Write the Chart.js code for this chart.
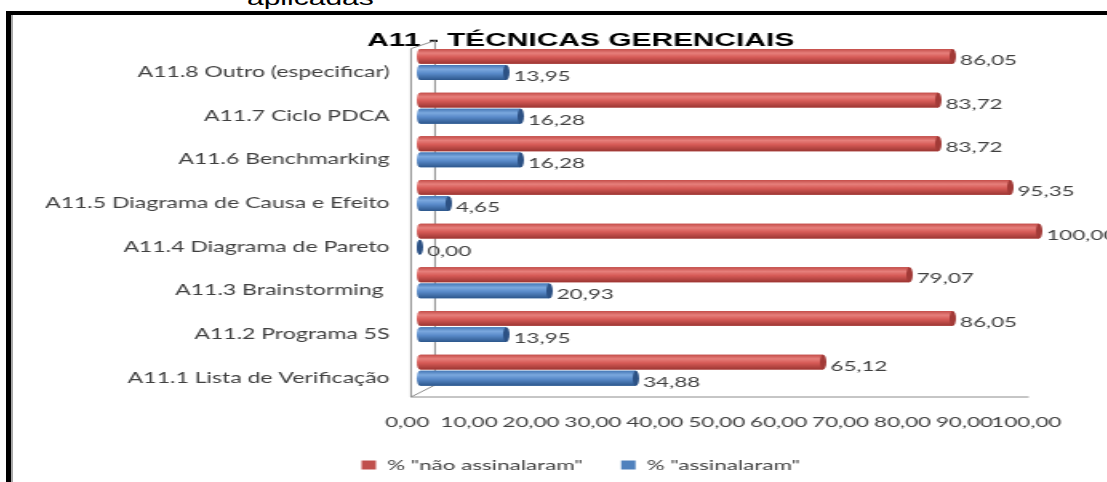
<!DOCTYPE html>
<html>
<head>
<meta charset="utf-8">
<script src="https://cdn.jsdelivr.net/npm/chart.js@4.4.0/dist/chart.umd.min.js"></script>
<style>
  html, body { margin: 0; padding: 0; background: #fff; overflow: hidden; width: 1107px; height: 482px; }
  #top { position: absolute; left: 247px; top: -13px; font: 20px "Liberation Sans", Arial, sans-serif; transform: scaleX(1.5); transform-origin: 0 0; white-space: nowrap; color: #000; }
  #frame { position: absolute; left: 6px; top: 11px; width: 2000px; height: 1000px; border-top: 4px solid #000; border-left: 5px solid #000; }
  #frame div { position: absolute; left: 0; top: 0; bottom: 0; border-left: 2px solid #a8a8a8; }
  /* the source picture is stretched sideways, so the chart is drawn narrow and widened */
  #wrap { position: absolute; left: 12px; top: 15px; width: 711px; height: 467px; transform: scaleX(1.6); transform-origin: 0 0; }
</style>
</head>
<body>
<div id="top">aplicadas</div>
<div id="frame"><div></div></div>
<div id="wrap"><canvas id="chart"></canvas></div>
<script>
const categories = [
  "A11.8 Outro (especificar)",
  "A11.7 Ciclo PDCA",
  "A11.6 Benchmarking",
  "A11.5 Diagrama de Causa e Efeito",
  "A11.4 Diagrama de Pareto",
  "A11.3 Brainstorming ",
  "A11.2 Programa 5S",
  "A11.1 Lista de Verificação"
];
const naoAssinalaram = [86.05, 83.72, 83.72, 95.35, 100.00, 79.07, 86.05, 65.12];
const assinalaram = [13.95, 16.28, 16.28, 4.65, 0.00, 20.93, 13.95, 34.88];
const seriesNames = ['% "não assinalaram"', '% "assinalaram"'];

const fmt = v => Number(v).toFixed(2).replace(".", ",");
const textColor = "#404040";
const labelFont = { family: "Lato", size: 14 };

// cylinder shading per dataset: body gradient stops + end cap colour
const shades = [
  { stops: ["#c44d49", "#e67f7b", "#d75b57", "#9c3633"], cap: "#a23a37" },
  { stops: ["#4678b6", "#7ba8de", "#5a8bca", "#2d578c"], cap: "#2c5184" }
];

// 3D box lines (walls + floor) around the plot
const box3d = {
  id: "box3d",
  beforeDatasetsDraw(chart) {
    const { ctx, chartArea: a, scales: { x } } = chart;
    const fx = a.left - 5.6, bx = a.left + 9.4;
    const fTop = a.top + 6, bTop = a.top - 2, fBot = a.bottom + 5, bBot = a.bottom - 7;
    ctx.save();
    ctx.strokeStyle = "#8c8c8c";
    ctx.lineWidth = 1;
    ctx.beginPath();
    ctx.moveTo(fx, fTop); ctx.lineTo(fx, fBot); ctx.lineTo(x.getPixelForValue(100) - 6.5, fBot);
    ctx.moveTo(fx, fTop); ctx.lineTo(bx, bTop); ctx.lineTo(bx, bBot); ctx.lineTo(fx, fBot);
    ctx.stroke();
    ctx.restore();
  }
};

// draw bars as cylinders and put the value next to each one
const cylinder = {
  id: "cylinder",
  afterDatasetsDraw(chart) {
    const ctx = chart.ctx;
    chart.data.datasets.forEach((ds, i) => {
      const meta = chart.getDatasetMeta(i);
      const sh = shades[i];
      meta.data.forEach((bar, j) => {
        const { x, y, base, height } = bar.getProps(["x", "y", "base", "height"], true);
        const top = y - height / 2, bot = y + height / 2, rx = 2;
        const g = ctx.createLinearGradient(0, top, 0, bot);
        g.addColorStop(0, sh.stops[0]);
        g.addColorStop(0.28, sh.stops[1]);
        g.addColorStop(0.55, sh.stops[2]);
        g.addColorStop(1, sh.stops[3]);
        ctx.save();
        ctx.fillStyle = g;
        ctx.beginPath();
        ctx.ellipse(base, y, rx, height / 2, 0, Math.PI / 2, Math.PI * 1.5);
        ctx.lineTo(x, top);
        ctx.lineTo(x, bot);
        ctx.closePath();
        ctx.fill();
        ctx.fillStyle = sh.cap;
        ctx.beginPath();
        ctx.ellipse(x, y, rx, height / 2, 0, 0, Math.PI * 2);
        ctx.fill();
        ctx.fillStyle = textColor;
        ctx.font = "14px Lato";
        ctx.textBaseline = "middle";
        ctx.textAlign = "left";
        ctx.fillText(fmt(ds.data[j]), x + rx + 2.5, y + 4);
        ctx.restore();
      });
    });
  }
};

new Chart(document.getElementById("chart"), {
  type: "bar",
  data: {
    labels: categories,
    datasets: [
      { label: seriesNames[0], data: naoAssinalaram, backgroundColor: "#c0504d" },
      { label: seriesNames[1], data: assinalaram, backgroundColor: "#4f81bd" }
    ]
  },
  options: {
    indexAxis: "y",
    responsive: true,
    maintainAspectRatio: false,
    animation: false,
    layout: { padding: 0 },
    datasets: { bar: { categoryPercentage: 0.74, barPercentage: 0.92 } },
    scales: {
      x: {
        min: 0, max: 100,
        ticks: { stepSize: 10, callback: v => fmt(v), padding: 22, labelOffset: -8, color: textColor, font: labelFont, maxRotation: 0, autoSkip: false },
        grid: { display: false, drawTicks: false },
        border: { display: false },
        afterFit: s => { s.height = 42; s.paddingRight = 69; }
      },
      y: {
        ticks: { padding: 19, labelOffset: 8, color: textColor, font: { family: "Lato", size: 14.4 } },
        grid: { display: false, drawTicks: false },
        border: { display: false },
        afterFit: s => { s.width = 255; }
      }
    },
    plugins: {
      title: {
        display: true,
        text: "A11 - TÉCNICAS GERENCIAIS",
        color: "#000",
        font: { family: "Liberation Sans", weight: "bold", size: 18.7, lineHeight: "4px" },
        padding: { top: 23, bottom: 0 }
      },
      legend: {
        position: "bottom",
        labels: { boxWidth: 9, boxHeight: 9, padding: 24, color: textColor, font: labelFont }
      },
      tooltip: { enabled: false }
    }
  },
  plugins: [box3d, cylinder]
});
</script>
</body>
</html>
